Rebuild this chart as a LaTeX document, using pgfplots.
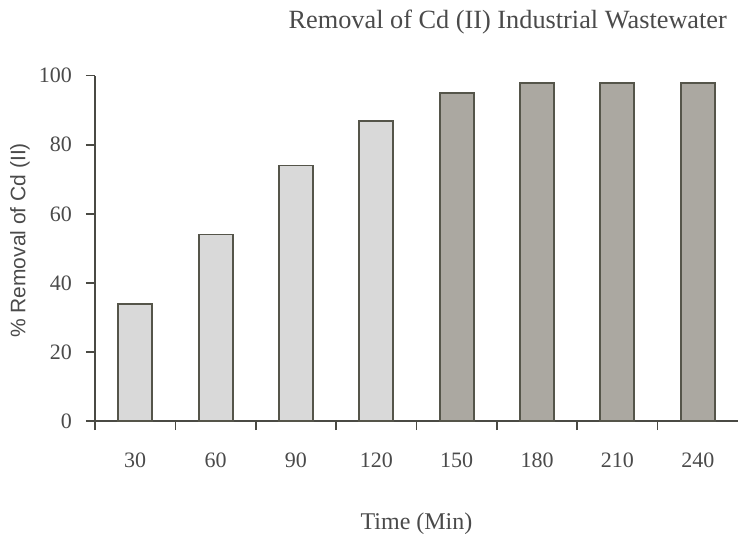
\documentclass[border=0pt]{standalone}
\usepackage{pgfplots}
\pgfplotsset{compat=1.18}
\usepackage{fontspec}
\setmainfont{Liberation Serif}
\newfontfamily\arialfont{Liberation Sans}
\definecolor{txt}{HTML}{4A4A4A}
\definecolor{axc}{HTML}{4A4A44}
\definecolor{edge}{HTML}{55554A}
\definecolor{lightbar}{HTML}{D9D9D9}
\definecolor{darkbar}{HTML}{ABA8A1}
\begin{document}
\begin{tikzpicture}
\begin{axis}[
  scale only axis,
  width=643pt, height=345.3pt,
  xmin=-0.5, xmax=7.5,
  ymin=0, ymax=100,
  axis lines*=left,
  axis line style={color=axc, line width=1.9pt},
  tick align=outside,
  major tick length=9pt,
  minor tick length=9pt,
  tick style={color=axc, line width=1.6pt},
  minor tick style={color=axc, line width=1.6pt},
  xtick={0,1,2,3,4,5,6,7},
  xticklabels={30,60,90,120,150,180,210,240},
  major x tick style={draw=none},
  minor xtick={-0.5,0.5,1.5,2.5,3.5,4.5,5.5,6.5},
  ytick={0,20,40,60,80,100},
  /pgf/number format/assume math mode=true,
  tick label style={font=\fontsize{22}{24}\selectfont, text=txt, inner sep=0pt},
  xticklabel shift=23pt,
  yticklabel shift=13.8pt,
  xlabel={Time (Min)},
  xlabel style={font=\fontsize{24}{26}\selectfont, text=txt, at={(axis description cs:0.5,-0.3128)}, anchor=base, inner sep=0pt},
  ylabel={\% Removal of Cd (II)},
  ylabel style={font=\arialfont\fontsize{21}{23}\selectfont, text=txt, at={(axis description cs:-0.1166,0.5227)}, anchor=center, inner sep=0pt},
  title={Removal of Cd (II) Industrial Wastewater},
  title style={font=\fontsize{26.3}{28}\selectfont, text=txt, at={(axis description cs:0.983,1.1179)}, anchor=base east, inner sep=0pt},
  clip=false,
]
\addplot[ybar, bar width=34pt, fill=lightbar, draw=edge, line width=1.9pt]
  coordinates {(0,34) (1,54) (2,74) (3,87)};
\addplot[ybar, bar width=34pt, fill=darkbar, draw=edge, line width=1.9pt]
  coordinates {(4,95) (5,98) (6,98) (7,98)};
\end{axis}
\pgfresetboundingbox
\path[use as bounding box] (-95pt,-112pt) rectangle (643pt,421pt);
\end{tikzpicture}
\end{document}
